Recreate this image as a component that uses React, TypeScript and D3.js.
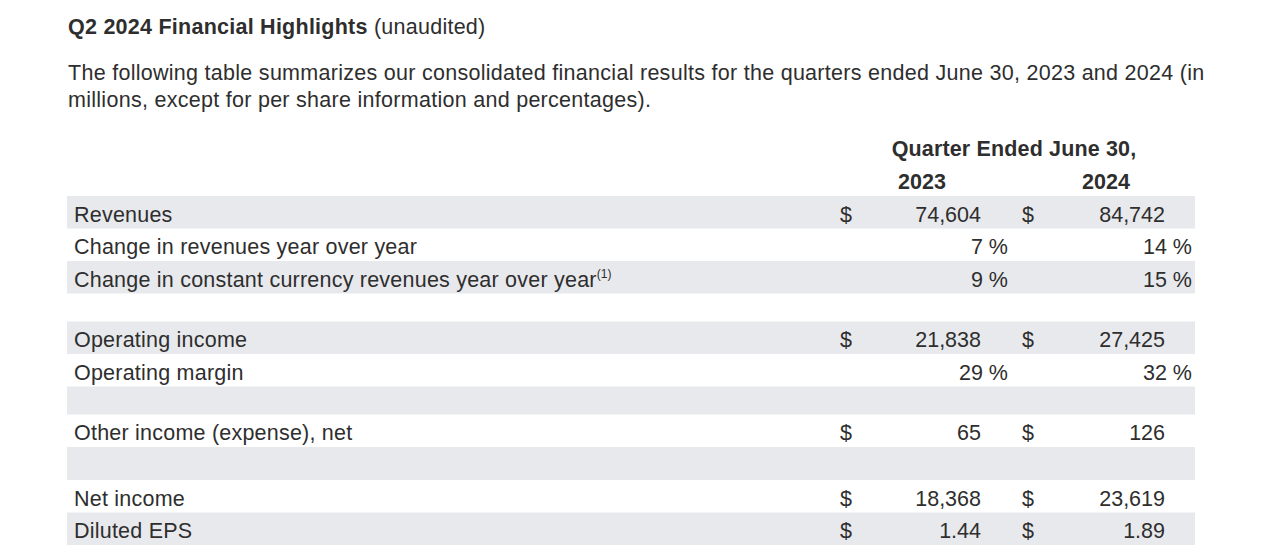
import React, { useEffect, useRef } from "react";
import * as d3 from "d3";

const titleBold = "Q2 2024 Financial Highlights";
const titleNormal = " (unaudited)";
const introLines = [
  "The following table summarizes our consolidated financial results for the quarters ended June 30, 2023 and 2024 (in",
  "millions, except for per share information and percentages).",
];
const headerTitle = "Quarter Ended June 30,";
const years = ["2023", "2024"];

const rowLabels = [
  "Revenues",
  "Change in revenues year over year",
  "Change in constant currency revenues year over year",
  "",
  "Operating income",
  "Operating margin",
  "",
  "Other income (expense), net",
  "",
  "Net income",
  "Diluted EPS",
];
const rowFootnotes = ["", "", "(1)", "", "", "", "", "", "", "", ""];
const rowKinds = ["usd", "pct", "pct", "gap", "usd", "pct", "gap", "usd", "gapL", "usd", "eps"];
const values2023: (number | null)[] = [74604, 7, 9, null, 21838, 29, null, 65, null, 18368, 1.44];
const values2024: (number | null)[] = [84742, 14, 15, null, 27425, 32, null, 126, null, 23619, 1.89];

const W = 1280;
const H = 560;
const FONT = "'Liberation Sans', Arial, Helvetica, sans-serif";
const TEXT = "#2e2e2e";
const SHADE = "#e8e9ed";

export default function App() {
  const ref = useRef<SVGSVGElement | null>(null);

  useEffect(() => {
    const svg = d3.select(ref.current);
    svg.selectAll("*").remove();
    const fs = 21.5;
    const ls = 0.28;

    // Title
    const t = svg
      .append("text")
      .attr("x", 68)
      .attr("y", 34)
      .attr("font-family", FONT)
      .attr("font-size", fs)
      .attr("letter-spacing", 0.25)
      .attr("fill", TEXT);
    t.append("tspan").attr("font-weight", "bold").text(titleBold);
    t.append("tspan").text(titleNormal);

    // intro
    svg
      .selectAll("text.intro")
      .data(introLines)
      .join("text")
      .attr("class", "intro")
      .attr("x", 68)
      .attr("y", (_, i) => 80 + i * 26.5)
      .attr("font-family", FONT)
      .attr("font-size", fs)
      .attr("letter-spacing", ls)
      .attr("fill", TEXT)
      .text((d) => d);

    // Column positions
    const colX = d3.scaleOrdinal<string, number>().domain(years).range([922, 1106]);
    const dollarX = d3.scaleOrdinal<string, number>().domain(years).range([846, 1028]);
    const numRight = d3.scaleOrdinal<string, number>().domain(years).range([981, 1165]);
    const pctRight = d3.scaleOrdinal<string, number>().domain(years).range([1008, 1192]);

    svg
      .append("text")
      .attr("x", 1014)
      .attr("y", 156)
      .attr("text-anchor", "middle")
      .attr("font-family", FONT)
      .attr("font-size", fs)
      .attr("font-weight", "bold")
      .attr("letter-spacing", 0.15)
      .attr("fill", TEXT)
      .text(headerTitle);

    svg
      .selectAll("text.year")
      .data(years)
      .join("text")
      .attr("class", "year")
      .attr("x", (d) => colX(d))
      .attr("y", 188.5)
      .attr("text-anchor", "middle")
      .attr("font-family", FONT)
      .attr("font-size", fs)
      .attr("font-weight", "bold")
      .attr("fill", TEXT)
      .text((d) => d);

    // rows
    const heightOf = (k: string) => (k === "gap" ? 28 : k === "gapL" ? 33 : 32.5);
    const tops: number[] = [];
    let y = 196;
    rowKinds.forEach((k) => {
      tops.push(y);
      y += heightOf(k);
    });

    const rows = rowLabels.map((label, i) => ({
      label,
      foot: rowFootnotes[i],
      kind: rowKinds[i],
      v: [values2023[i], values2024[i]],
      top: tops[i],
      h: heightOf(rowKinds[i]),
      shaded: i % 2 === 0,
    }));

    const g = svg.append("g");
    g.selectAll("rect.shade")
      .data(rows.filter((r) => r.shaded))
      .join("rect")
      .attr("class", "shade")
      .attr("x", 67)
      .attr("width", 1195 - 67)
      .attr("y", (r) => r.top)
      .attr("height", (r) => r.h)
      .attr("fill", SHADE);

    const fmtInt = d3.format(",");
    const fmtEps = d3.format(".2f");

    rows.forEach((r) => {
      if (r.kind.startsWith("gap")) return;
      const base = r.top + r.h / 2 + 9.3;
      const lt = g
        .append("text")
        .attr("x", 74)
        .attr("y", base)
        .attr("font-family", FONT)
        .attr("font-size", fs)
        .attr("letter-spacing", 0.22)
        .attr("fill", TEXT)
        .text(r.label);
      if (r.foot) {
        lt.append("tspan")
          .attr("font-size", 12)
          .attr("letter-spacing", 0)
          .attr("dy", -9)
          .text(r.foot);
      }
      years.forEach((yr, j) => {
        const v = r.v[j];
        if (v == null) return;
        if (r.kind === "pct") {
          g.append("text")
            .attr("x", pctRight(yr))
            .attr("y", base)
            .attr("text-anchor", "end")
            .attr("font-family", FONT)
            .attr("font-size", fs)
            .attr("fill", TEXT)
            .text(`${v} %`);
        } else {
          g.append("text")
            .attr("x", dollarX(yr))
            .attr("y", base)
            .attr("text-anchor", "middle")
            .attr("font-family", FONT)
            .attr("font-size", fs)
            .attr("fill", TEXT)
            .text("$");
          g.append("text")
            .attr("x", numRight(yr))
            .attr("y", base)
            .attr("text-anchor", "end")
            .attr("font-family", FONT)
            .attr("font-size", fs)
            .attr("fill", TEXT)
            .text(r.kind === "eps" ? fmtEps(v) : fmtInt(v));
        }
      });
    });
  }, []);

  return (
    <svg
      ref={ref}
      width={W}
      height={H}
      style={{ position: "absolute", left: 0, top: 0, background: "#fff" }}
    />
  );
}
